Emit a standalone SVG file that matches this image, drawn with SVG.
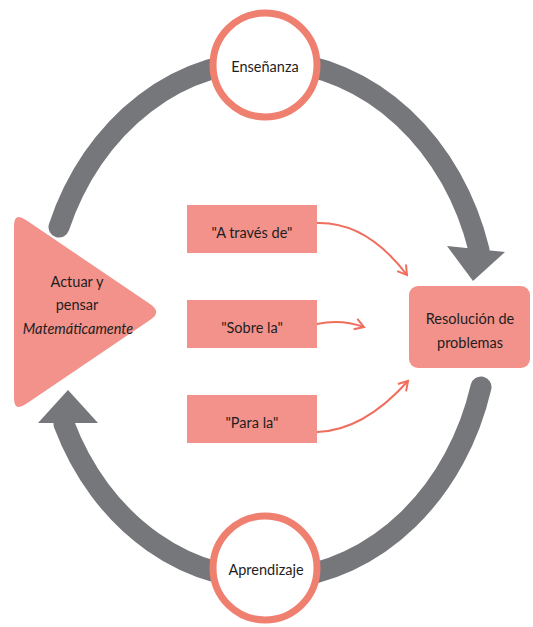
<svg xmlns="http://www.w3.org/2000/svg" width="533" height="627" viewBox="0 0 533 627">
<defs>
<style>
.ring{fill:none;stroke:#76777b;stroke-width:21;stroke-linecap:round}
.head{fill:#76777b}
.node{fill:#f2928a}
.circ{fill:#fff;stroke:#ef7f6f;stroke-width:7}
.lbl{font-family:Lato,"Open Sans","Liberation Sans",sans-serif;font-size:14.5px;fill:#1e1e22;text-anchor:middle}
.link{fill:none;stroke:#ef6e5e;stroke-width:2}
</style>
<marker id="vh" markerUnits="userSpaceOnUse" markerWidth="14" markerHeight="14" viewBox="-11 -7 14 14" refX="0" refY="0" orient="auto">
<path d="M -9 -5.5 L 0 0 L -9 5.5" fill="none" stroke="#ef6e5e" stroke-width="2" stroke-linejoin="miter"/>
</marker>
</defs>
<rect width="533" height="627" fill="#fff"/>
<g id="cycle">
<path class="ring" d="M 59 227 A 222 261 0 0 1 479 250"/>
<polygon class="head" points="447,246 505,252 473,281"/>
<path class="ring" d="M 481 387 A 222 261 0 0 1 64 424"/>
<polygon class="head" points="38,423 98,423 68,390"/>
</g>
<g id="connectors">
<path class="link" d="M 317 223 C 352 222 382 242 407 275" marker-end="url(#vh)"/>
<path class="link" d="M 317 324 C 335 320 350 322 364 327" marker-end="url(#vh)"/>
<path class="link" d="M 317 432 C 352 431 382 410 408 381" marker-end="url(#vh)"/>
</g>
<g id="ensenanza">
<circle class="circ" cx="265" cy="65" r="52"/>
<text class="lbl" x="265" y="72">Enseñanza</text>
</g>
<g id="aprendizaje">
<circle class="circ" cx="265" cy="568" r="52"/>
<text class="lbl" x="266" y="575">Aprendizaje</text>
</g>
<g id="actuar">
<path class="node" d="M 14 226 Q 14 212 25.6 219.8 L 150.4 304.2 Q 162 312 150.4 319.8 L 25.6 404.2 Q 14 412 14 398 Z"/>
<text class="lbl" x="77" y="287" font-size="13.5">Actuar y</text>
<text class="lbl" x="77" y="310" font-size="13.5">pensar</text>
<text class="lbl" x="78" y="334" font-size="13.5" font-style="italic">Matemáticamente</text>
</g>
<g id="traves">
<rect class="node" x="187" y="205" width="130" height="48"/>
<text class="lbl" x="252" y="238">"A través de"</text>
</g>
<g id="sobre">
<rect class="node" x="187" y="300" width="130" height="48"/>
<text class="lbl" x="252" y="333">"Sobre la"</text>
</g>
<g id="para">
<rect class="node" x="187" y="395" width="130" height="48"/>
<text class="lbl" x="252" y="428">"Para la"</text>
</g>
<g id="resolucion">
<rect class="node" x="409" y="286" width="121" height="82" rx="9"/>
<text class="lbl" x="470" y="324">Resolución de</text>
<text class="lbl" x="470" y="348">problemas</text>
</g>
</svg>
